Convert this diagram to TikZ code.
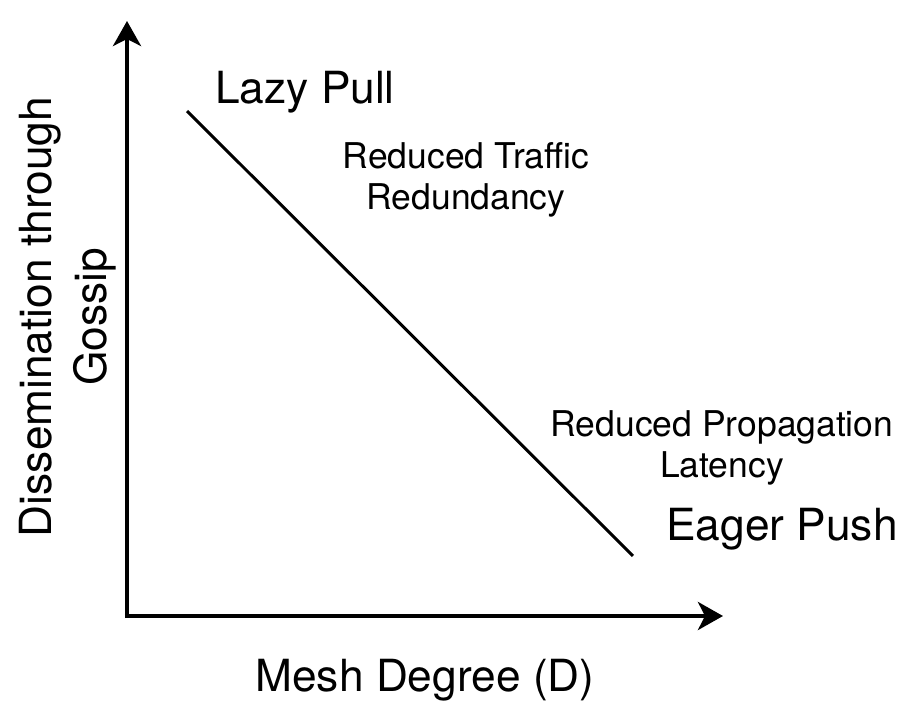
\documentclass[tikz,border=0pt]{standalone}
\usepackage{fontspec}
\setmainfont{TeX Gyre Heros}
\usetikzlibrary{arrows.meta}
\tikzset{
  axisline/.style={
    -{Stealth[length=2.5mm, width=2.8mm, inset=0.7mm]}, line width=1.15pt
  },
  tradeline/.style={line width=0.85pt},
  biglabel/.style={font=\fontsize{12.6}{15.6}\selectfont, align=center, inner sep=0pt},
  smalllabel/.style={font=\fontsize{10.1}{11.7}\selectfont, align=center, inner sep=0pt}
}
\begin{document}
\begin{tikzpicture}
  \useasboundingbox (0,0) rectangle (9.02,7.09);
  % Axes
  \coordinate (origin) at (1.27,0.93);
  \coordinate (ytip) at (1.27,6.88);
  \coordinate (xtip) at (7.23,0.93);
  \draw[axisline] ([yshift=-0.02cm]origin) -- (ytip);
  \draw[axisline] ([xshift=-0.02cm]origin) -- (xtip);

  \node[biglabel] (xlabel) at (4.25,0.29) {Mesh Degree (D)};
  \node[biglabel, rotate=90] (ylabel) at (0.68,3.92) {Dissemination through\\Gossip};

  % Trade-off line
  \coordinate (pullend) at (1.87,5.98);
  \coordinate (pushend) at (6.33,1.53);
  \draw[tradeline] (pullend) -- (pushend);

  \node[biglabel] (pull) at (3.05,6.17) {Lazy Pull};
  \node[biglabel] (push) at (7.82,1.80) {Eager Push};
  \node[smalllabel] (traffic) at (4.66,5.29) {Reduced Traffic\\Redundancy};
  \node[smalllabel] (latency) at (7.22,2.61) {Reduced Propagation\\Latency};
\end{tikzpicture}
\end{document}
